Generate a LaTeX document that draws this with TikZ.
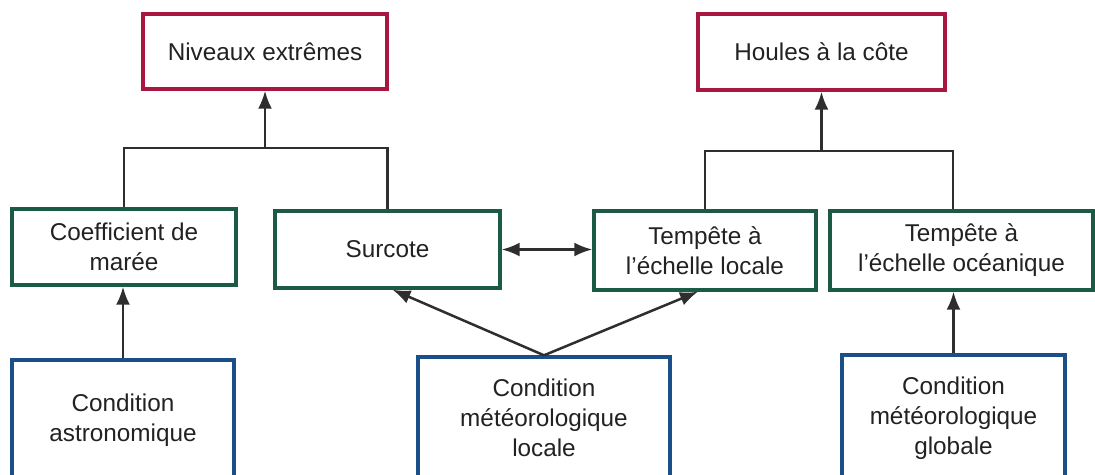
\documentclass[tikz,border=0pt]{standalone}
\usepackage{fontspec}
\setmainfont{Liberation Sans}
\usetikzlibrary{arrows.meta}
\definecolor{redbox}{HTML}{A8173F}
\definecolor{greenbox}{HTML}{1B5B45}
\definecolor{bluebox}{HTML}{1C4E8A}
\definecolor{ink}{HTML}{222222}
\definecolor{wire}{HTML}{2E2E2E}
\tikzset{
  box/.style={draw, line width=3.4pt, fill=white, inner sep=0pt, align=center, text=ink,
    font=\fontsize{24.3}{30}\selectfont},
  outbox/.style={box, draw=redbox},
  midbox/.style={box, draw=greenbox},
  inbox/.style={box, draw=bluebox},
  wirestyle/.style={draw=wire, line width=2.5pt},
  arr/.style={wirestyle, -{Latex[length=18pt,width=14pt]}},
  darr/.style={wirestyle, {Latex[length=18pt,width=14pt]}-{Latex[length=18pt,width=14pt]}},
}
\begin{document}
\begin{tikzpicture}[x=1pt,y=-1pt]
\clip (0,0) rectangle (1095,474);
\fill[white] (0,0) rectangle (1095,474);
% top outputs
\node[outbox, minimum width=244pt, minimum height=75pt] (niv) at (265,51.5) {Niveaux extrêmes};
\node[outbox, minimum width=247pt, minimum height=76pt] (houl) at (821.5,52) {Houles à la côte};
% middle
\node[midbox, minimum width=224pt, minimum height=76pt] (coef) at (124,247) {Coefficient de\\marée};
\node[midbox, minimum width=225pt, minimum height=77pt] (surc) at (387.5,249.5) {Surcote};
\node[midbox, minimum width=222pt, minimum height=79pt] (templ) at (705,250.5) {Tempête à\\l’échelle locale};
\node[midbox, minimum width=263pt, minimum height=79pt] (tempo) at (961.5,250.5) {Tempête à\\l’échelle océanique};
% bottom inputs
\node[inbox, minimum width=222pt, minimum height=120pt] (astro) at (123,420) {Condition\\astronomique};
\node[inbox, minimum width=252pt, minimum height=122pt] (loc) at (544,418) {Condition\\météorologique\\locale};
\node[inbox, minimum width=223pt, minimum height=126pt] (glob) at (953.5,418) {Condition\\météorologique\\globale};
% junctions
\coordinate (jn) at (265,148);
\coordinate (jh) at (821.5,151);
% connectors
\draw[wirestyle] (coef.north) |- (jn) -| (surc.north);
\draw[arr] (jn) -- (niv.south);
\draw[wirestyle] (templ.north) |- (jh) -| ([xshift=-8.5pt]tempo.north);
\draw[arr] (jh) -- (houl.south);
\draw[arr] (astro.north) -- (astro.north |- coef.south);
\draw[arr] (glob.north) -- (glob.north |- tempo.south);
\draw[arr] (loc.north) -- ([xshift=5pt]surc.south);
\draw[arr] (loc.north) -- ([xshift=-7pt]templ.south);
\draw[darr] (surc.east) -- (surc.east -| templ.west);
\end{tikzpicture}
\end{document}
